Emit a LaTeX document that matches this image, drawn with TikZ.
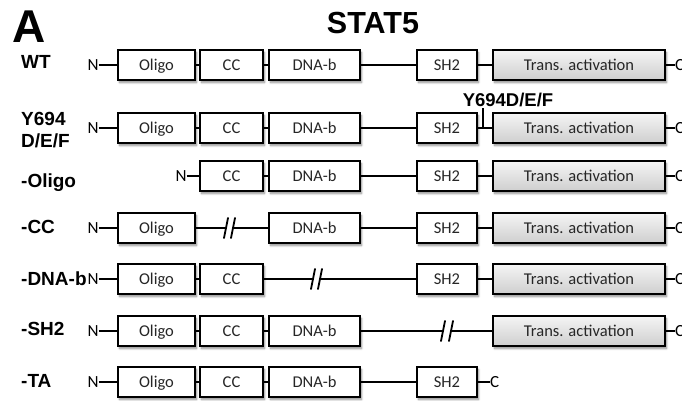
\documentclass[tikz,border=0pt]{standalone}
\usepackage{fontspec}
\setmainfont{Liberation Sans}
\newfontfamily\boxfont{Carlito}
\usetikzlibrary{shadows.blur}
\tikzset{
  dom/.style={draw=black, line width=2.2pt, fill=white, minimum height=30pt, inner sep=0pt,
    font=\boxfont\fontsize{16.5}{18}\selectfont, text=black!85,
    text height=12.8pt, text depth=2pt,
    blur shadow={shadow xshift=1.5pt, shadow yshift=-2.5pt, shadow blur steps=6, shadow opacity=45}},
  ta/.style={dom, minimum width=172pt, top color=gray!8, bottom color=gray!38},
  oligo/.style={dom, minimum width=77pt},
  ccbox/.style={dom, minimum width=63pt},
  dnab/.style={dom, minimum width=91pt},
  shtwo/.style={dom, minimum width=60pt},
  term/.style={font=\boxfont\fontsize{17}{19}\selectfont, inner sep=0pt},
  rowlab/.style={font=\bfseries\fontsize{19}{21}\selectfont, anchor=base west, inner sep=0pt, align=left},
  link/.style={line width=1.8pt},
  brk/.style={line width=1.8pt, line cap=round}
}
\begin{document}
\begin{tikzpicture}[x=1pt,y=-1pt]
\useasboundingbox (0,0) rectangle (682,400);
% headings
\node[font=\bfseries\fontsize{46}{50}\selectfont, inner sep=0pt] (panel) at (29,27) {A};
\node[font=\bfseries\fontsize{30.5}{34}\selectfont, inner sep=0pt] (title) at (373,23) {STAT5};
% row labels
\node[rowlab] (lwt) at (21,68) {WT};
\node[rowlab, anchor=west, font=\bfseries\fontsize{19}{22}\selectfont] (ly) at (21,130) {Y694\\D/E/F};
\node[rowlab] (lol) at (21,187) {-Oligo};
\node[rowlab] (lcc) at (21,233) {-CC};
\node[rowlab] (ldna) at (21,285) {-DNA-b};
\node[rowlab] (lsh) at (21,335) {-SH2};
\node[rowlab] (lta) at (21,387) {-TA};

% ---- WT (y=65)
\node[term] (wtN) at (93,65) {N};
\node[oligo] (wtO) at (156.5,65) {Oligo};
\node[ccbox] (wtC) at (231.5,65) {CC};
\node[dnab] (wtD) at (314.5,65) {DNA-b};
\node[shtwo] (wtS) at (447,65) {SH2};
\node[ta] (wtT) at (579,65) {Trans. activation};
\node[term, anchor=west] (wtCt) at (675,65) {C};
\draw[link] (wtN.east) -- (wtO.west) (wtO.east) -- (wtC.west) (wtC.east) -- (wtD.west)
  (wtD.east) -- (wtS.west) (wtS.east) -- (wtT.west) (wtT.east) -- (wtCt.west);

% ---- Y694 (y=128)
\node[term] (yN) at (93,128) {N};
\node[oligo] (yO) at (156.5,128) {Oligo};
\node[ccbox] (yC) at (231.5,128) {CC};
\node[dnab] (yD) at (314.5,128) {DNA-b};
\node[shtwo] (yS) at (447,128) {SH2};
\node[ta] (yT) at (579,128) {Trans. activation};
\node[term, anchor=west] (yCt) at (675,128) {C};
\node[font=\bfseries\fontsize{18.5}{20}\selectfont, inner sep=0pt] (ylab) at (508,100) {Y694D/E/F};
\coordinate (ytick) at (483,128);
\draw[link] (yN.east) -- (yO.west) (yO.east) -- (yC.west) (yC.east) -- (yD.west)
  (yD.east) -- (yS.west) (yS.east) -- (yT.west) (yT.east) -- (yCt.west);
\draw[link] (ytick) -- ([yshift=-1pt]ytick |- ylab.south);

% ---- -Oligo (y=176)
\node[term] (oN) at (181,176) {N};
\node[ccbox] (oC) at (231.5,176) {CC};
\node[dnab] (oD) at (314.5,176) {DNA-b};
\node[shtwo] (oS) at (447,176) {SH2};
\node[ta] (oT) at (579,176) {Trans. activation};
\node[term, anchor=west] (oCt) at (675,176) {C};
\draw[link] (oN.east) -- (oC.west) (oC.east) -- (oD.west)
  (oD.east) -- (oS.west) (oS.east) -- (oT.west) (oT.east) -- (oCt.west);

% ---- -CC (y=228)
\node[term] (cN) at (93,228) {N};
\node[oligo] (cO) at (156.5,228) {Oligo};
\coordinate (cbL) at (226,228);
\coordinate (cbR) at (233,228);
\node[dnab] (cD) at (314.5,228) {DNA-b};
\node[shtwo] (cS) at (447,228) {SH2};
\node[ta] (cT) at (579,228) {Trans. activation};
\node[term, anchor=west] (cCt) at (675,228) {C};
\draw[link] (cN.east) -- (cO.west) (cO.east) -- (cbL) (cbR) -- (cD.west)
  (cD.east) -- (cS.west) (cS.east) -- (cT.west) (cT.east) -- (cCt.west);
\draw[brk] ([shift={(-2,10)}]cbL) -- ([shift={(2,-10)}]cbL);
\draw[brk] ([shift={(-2,10)}]cbR) -- ([shift={(2,-10)}]cbR);

% ---- -DNA-b (y=279)
\node[term] (dN) at (93,279) {N};
\node[oligo] (dO) at (156.5,279) {Oligo};
\node[ccbox] (dC) at (231.5,279) {CC};
\coordinate (dbL) at (313,279);
\coordinate (dbR) at (320,279);
\node[shtwo] (dS) at (447,279) {SH2};
\node[ta] (dT) at (579,279) {Trans. activation};
\node[term, anchor=west] (dCt) at (675,279) {C};
\draw[link] (dN.east) -- (dO.west) (dO.east) -- (dC.west) (dC.east) -- (dbL)
  (dbR) -- (dS.west) (dS.east) -- (dT.west) (dT.east) -- (dCt.west);
\draw[brk] ([shift={(-2,10)}]dbL) -- ([shift={(2,-10)}]dbL);
\draw[brk] ([shift={(-2,10)}]dbR) -- ([shift={(2,-10)}]dbR);

% ---- -SH2 (y=331)
\node[term] (sN) at (93,331) {N};
\node[oligo] (sO) at (156.5,331) {Oligo};
\node[ccbox] (sC) at (231.5,331) {CC};
\node[dnab] (sD) at (314.5,331) {DNA-b};
\coordinate (sbL) at (443,331);
\coordinate (sbR) at (451,331);
\node[ta] (sT) at (579,331) {Trans. activation};
\node[term, anchor=west] (sCt) at (675,331) {C};
\draw[link] (sN.east) -- (sO.west) (sO.east) -- (sC.west) (sC.east) -- (sD.west)
  (sD.east) -- (sbL) (sbR) -- (sT.west) (sT.east) -- (sCt.west);
\draw[brk] ([shift={(-2,10)}]sbL) -- ([shift={(2,-10)}]sbL);
\draw[brk] ([shift={(-2,10)}]sbR) -- ([shift={(2,-10)}]sbR);

% ---- -TA (y=382)
\node[term] (tN) at (93,382) {N};
\node[oligo] (tO) at (156.5,382) {Oligo};
\node[ccbox] (tC) at (231.5,382) {CC};
\node[dnab] (tD) at (314.5,382) {DNA-b};
\node[shtwo] (tS) at (447,382) {SH2};
\node[term, anchor=west] (tCt) at (490,382) {C};
\draw[link] (tN.east) -- (tO.west) (tO.east) -- (tC.west) (tC.east) -- (tD.west)
  (tD.east) -- (tS.west) (tS.east) -- (tCt.west);
\end{tikzpicture}
\end{document}
